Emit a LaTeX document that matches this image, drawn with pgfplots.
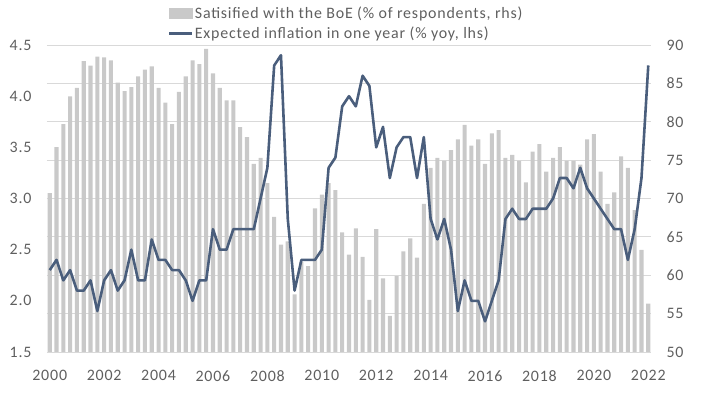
\documentclass[border=0pt]{standalone}
\usepackage{fontspec}
\setmainfont{Carlito}[LetterSpace=5]
\usepackage{pgfplots}
\pgfplotsset{compat=1.18}
\usepackage{pgfplotstable}

\definecolor{bargray}{RGB}{201,201,201}
\definecolor{linecol}{RGB}{74,94,124}
\definecolor{txt}{RGB}{95,95,95}
\definecolor{gridc}{RGB}{217,217,217}

\pgfplotstableread{
i bar line
0 70.7 2.3
1 76.7 2.4
2 79.7 2.2
3 83.3 2.3
4 84.4 2.1
5 87.9 2.1
6 87.3 2.2
7 88.5 1.9
8 88.4 2.2
9 88.0 2.3
10 85.1 2.1
11 84.0 2.2
12 84.5 2.5
13 85.9 2.2
14 86.8 2.2
15 87.2 2.6
16 84.4 2.4
17 82.5 2.4
18 79.7 2.3
19 83.9 2.3
20 85.9 2.2
21 88.0 2.0
22 87.5 2.2
23 89.5 2.2
24 86.3 2.7
25 84.4 2.5
26 82.8 2.5
27 82.8 2.7
28 79.3 2.7
29 78.0 2.7
30 74.5 2.7
31 75.3 3.0
32 72.0 3.3
33 67.6 4.3
34 64.0 4.4
35 64.4 2.8
36 57.5 2.1
37 61.7 2.4
38 61.2 2.4
39 68.7 2.4
40 70.5 2.5
41 72.0 3.3
42 71.1 3.4
43 65.6 3.9
44 62.7 4.0
45 66.1 3.9
46 62.4 4.2
47 56.8 4.1
48 66.0 3.5
49 59.6 3.7
50 54.7 3.2
51 59.9 3.5
52 63.1 3.6
53 64.8 3.6
54 62.3 3.2
55 69.3 3.6
56 74.0 2.8
57 75.3 2.6
58 74.9 2.8
59 76.3 2.5
60 77.7 1.9
61 79.6 2.2
62 76.9 2.0
63 77.7 2.0
64 74.5 1.8
65 78.5 2.0
66 78.9 2.2
67 75.3 2.8
68 75.7 2.9
69 74.9 2.8
70 72.1 2.8
71 76.1 2.9
72 77.1 2.9
73 73.5 2.9
74 75.3 3.0
75 76.7 3.2
76 74.9 3.2
77 74.9 3.1
78 74.4 3.3
79 77.7 3.1
80 78.4 3.0
81 73.5 2.9
82 69.3 2.8
83 70.8 2.7
84 75.5 2.7
85 74.0 2.4
86 68.5 2.7
87 63.3 3.2
88 56.3 4.3
}\datatable

\begin{document}
\begin{tikzpicture}
\useasboundingbox (-47bp,-45bp) rectangle (655bp,352bp);
\pgfplotsset{
  every axis/.append style={
    width=604bp, height=307bp, scale only axis,
    xmin=1999.9, xmax=2022.1,
    axis line style={draw=none},
    tick style={draw=none},
    tick label style={font=\fontsize{16}{19}\selectfont, text=txt},
    /pgf/number format/assume math mode=true,
  }
}
% bars, right axis
\begin{axis}[
  ymin=50, ymax=90, ytick={50,55,...,90},
  ytick pos=right, yticklabel pos=right,
  yticklabel style={xshift=12bp},
  xtick=\empty,
  ymajorgrids, grid style={gridc, line width=0.8bp},
]
\addplot[ybar, bar width=0.15, fill=bargray, draw=none]
  table[x expr=2000+\thisrow{i}/4, y=bar] {\datatable};
\end{axis}
% line, left axis
\begin{axis}[
  ymin=1.5, ymax=4.5, ytick={1.5,2.0,...,4.5},
  ytick pos=left, yticklabel pos=left,
  yticklabel style={xshift=-12bp, /pgf/number format/.cd, fixed, fixed zerofill, precision=1},
  xtick={2000,2002,...,2022},
  xticklabel style={yshift=-15bp, /pgf/number format/.cd, 1000 sep={}},
  legend style={at={(0.2,1.13)}, anchor=north west, draw=none, fill=none,
    font=\fontsize{16}{19}\selectfont, text=txt, row sep=4bp,
    inner sep=0pt, nodes={inner sep=1.5bp}},
  legend cell align=left,
]
\addlegendimage{legend image code/.code={\fill[bargray] (0bp,-5bp) rectangle (23bp,5bp);}}
\addlegendentry{Satisified with the BoE (\% of respondents, rhs)}
\addplot[linecol, line width=2.6bp, line join=round,
  legend image code/.code={\draw[linecol, line width=2.4bp] (0bp,0bp) -- (23bp,0bp);}]
  table[x expr=2000+\thisrow{i}/4, y=line] {\datatable};
\addlegendentry{Expected inflation in one year (\% yoy, lhs)}
\end{axis}
\end{tikzpicture}
\end{document}
